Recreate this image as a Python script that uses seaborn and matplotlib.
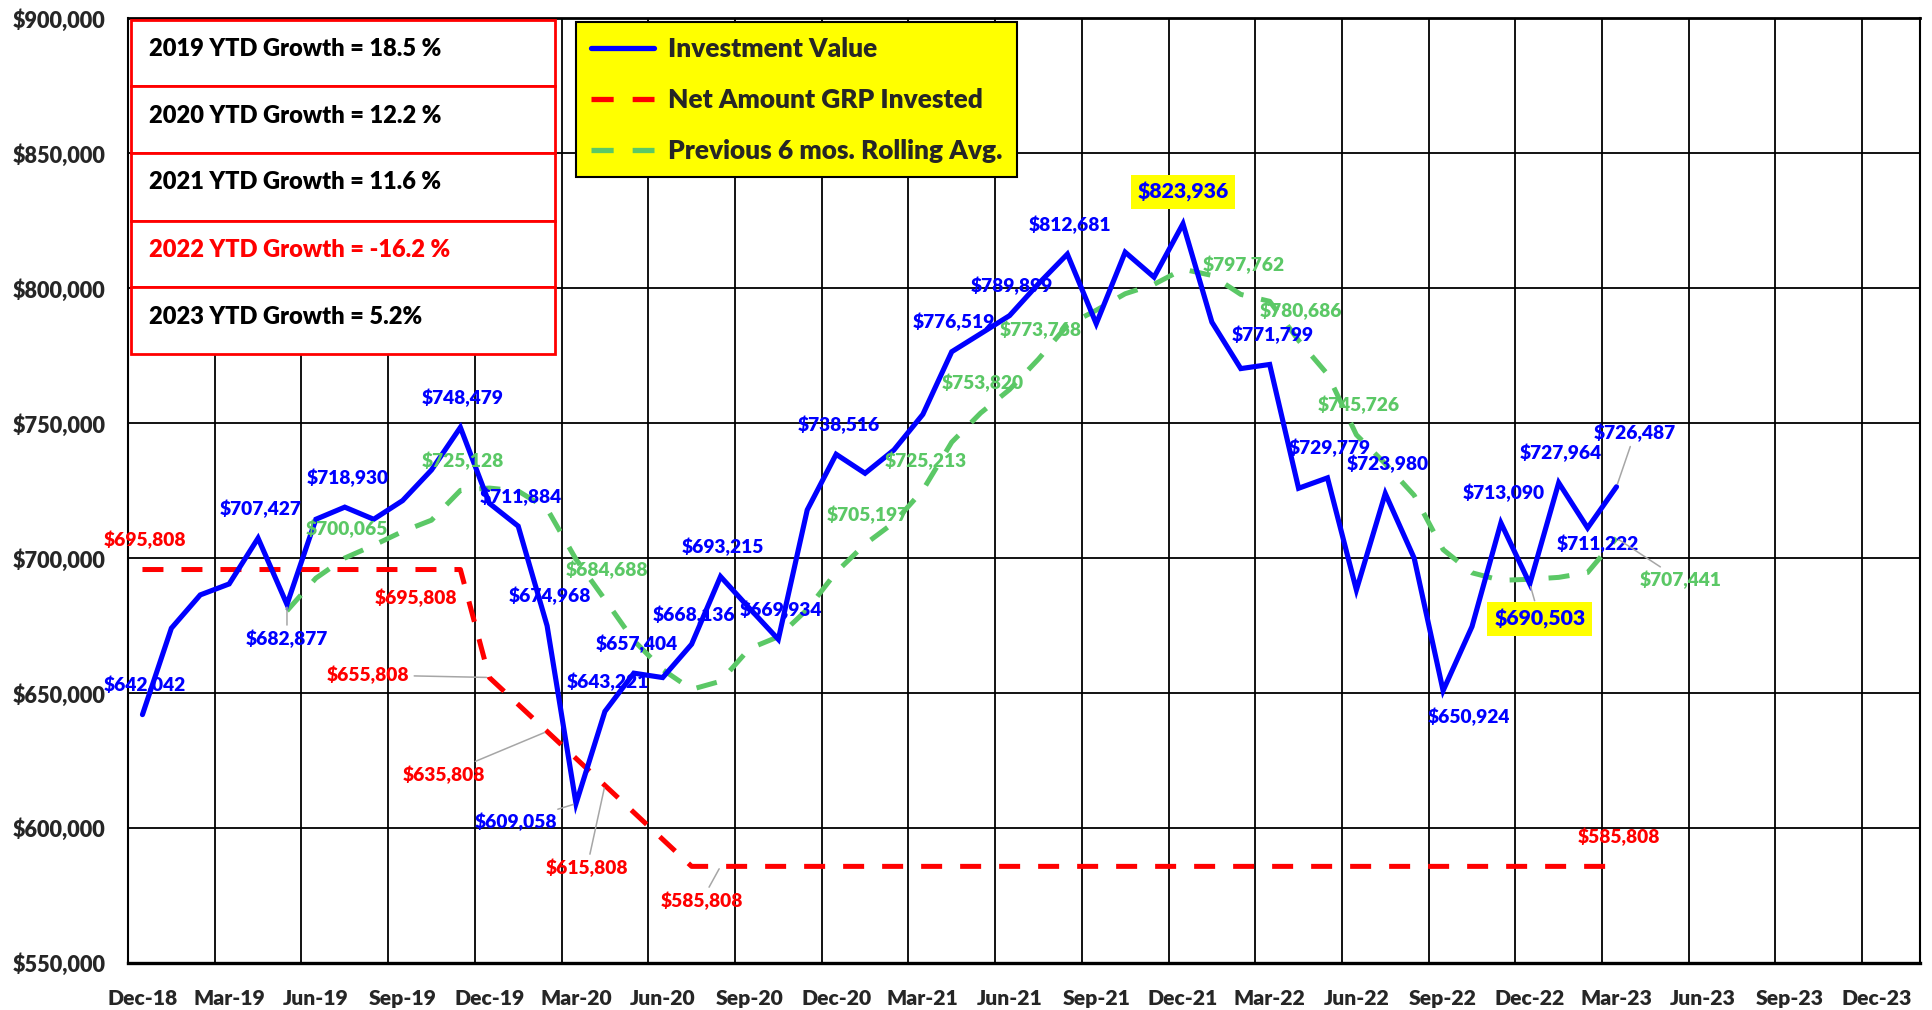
import numpy as np
import pandas as pd
import matplotlib
matplotlib.use('Agg')
import matplotlib.pyplot as plt
import seaborn as sns
from matplotlib.patches import Rectangle
from matplotlib.lines import Line2D
from matplotlib.ticker import FuncFormatter, FixedLocator

# ---- data ----
tick_labels = ['Dec-18', 'Mar-19', 'Jun-19', 'Sep-19', 'Dec-19', 'Mar-20', 'Jun-20',
               'Sep-20', 'Dec-20', 'Mar-21', 'Jun-21', 'Sep-21', 'Dec-21', 'Mar-22',
               'Jun-22', 'Sep-22', 'Dec-22', 'Mar-23', 'Jun-23', 'Sep-23', 'Dec-23']

# monthly, Dec-18 .. Mar-23
investment_value = [642042, 674050, 686400, 690470, 707427, 682877, 714430, 718930,
                    714430, 721350, 732700, 748479, 720360, 711884, 674968, 609058,
                    643221, 657404, 655770, 668136, 693215, 681460, 669934, 717890,
                    738516, 731475, 740120, 753300, 776519, 783200, 789899, 801700,
                    812681, 786900, 813400, 804150, 823936, 787500, 770270, 771799,
                    725920, 729779, 688250, 723980, 700000, 650924, 674665, 713090,
                    690503, 727964, 711222, 726487]

net_invested = [695808, 695808, 695808, 695808, 695808, 695808, 695808, 695808,
                695808, 695808, 695808, 695808, 655808, 645808, 635808, 625808,
                615808, 605808, 595808, 585808, 585808, 585808, 585808, 585808,
                585808, 585808, 585808, 585808, 585808, 585808, 585808, 585808,
                585808, 585808, 585808, 585808, 585808, 585808, 585808, 585808,
                585808, 585808, 585808, 585808, 585808, 585808, 585808, 585808,
                585808, 585808, 585808, 585808]

# starts May-19
rolling_avg = [680500, 692600, 700065, 704800, 709900, 714100, 725128, 726000,
               724900, 718300, 699600, 684688, 669500, 658700, 651400, 654400,
               666500, 670900, 681000, 694800, 705197, 713200, 725213, 743000,
               753820, 762500, 773768, 786300, 791900, 798000, 801500, 807100,
               804800, 797762, 795200, 780686, 768200, 745726, 735000, 723300,
               703200, 694600, 691800, 692200, 692900, 694700, 707441]
rolling_start = 5

ytd_labels = ['2019 YTD Growth = 18.5 %', '2020 YTD Growth = 12.2 %',
              '2021 YTD Growth = 11.6 %', '2022 YTD Growth = -16.2 %',
              '2023 YTD Growth = 5.2%']

series_names = ['Investment Value', 'Net Amount GRP Invested',
                'Previous 6 mos. Rolling Avg.']

# ---- styling ----
W, H = 1933, 1010
BLUE, RED, GREEN, GREY = '#0000FF', '#FF0000', '#5BC866', '#A6A6A6'
FW = 'heavy'

sns.set_style('white')
plt.rcParams['font.family'] = ['Lato', 'DejaVu Sans']
plt.rcParams['font.weight'] = FW

df_inv = pd.DataFrame({'m': np.arange(len(investment_value)), 'v': investment_value})
df_net = pd.DataFrame({'m': np.arange(len(net_invested)), 'v': net_invested})
df_roll = pd.DataFrame({'m': np.arange(len(rolling_avg)) + rolling_start, 'v': rolling_avg})

fig = plt.figure(figsize=(W / 100, H / 100), dpi=100)
ax = fig.add_axes([128 / W, 1 - 963 / H, (1920 - 128) / W, (963 - 18.5) / H])

dash = (0, (4.2, 3.6))
sns.lineplot(data=df_net, x='m', y='v', ax=ax, color=RED, linewidth=3.6,
             linestyle=dash, zorder=3)
sns.lineplot(data=df_roll, x='m', y='v', ax=ax, color=GREEN, linewidth=3.6,
             linestyle=dash, zorder=4)
sns.lineplot(data=df_inv, x='m', y='v', ax=ax, color=BLUE, linewidth=3.7,
             zorder=5, solid_joinstyle='miter')

ax.set_xlim(-0.5, 61.5)
ax.set_ylim(550000, 900000)
ax.set_xlabel('')
ax.set_ylabel('')

ax.xaxis.set_major_locator(FixedLocator(np.arange(0, 61, 3)))
ax.set_xticklabels(tick_labels)
ax.xaxis.set_minor_locator(FixedLocator(np.arange(2.5, 61, 3)))
ax.set_yticks(np.arange(550000, 900001, 50000))
ax.yaxis.set_major_formatter(FuncFormatter(lambda v, p: f'${v:,.0f}'))
ax.tick_params(axis='x', which='both', length=0, pad=19, labelsize=15.2)
ax.tick_params(axis='y', length=0, pad=16, labelsize=15.6)
ax.grid(axis='x', which='minor', color='black', linewidth=1.3)
ax.grid(axis='y', which='major', color='black', linewidth=1.3)
ax.grid(axis='x', which='major', visible=False)
for side, sp in ax.spines.items():
    sp.set_color('black')
    sp.set_linewidth(1.5)
ax.spines['bottom'].set_linewidth(2.4)
ax.spines['top'].set_linewidth(2.0)


def px(dx, dy):
    return dx * 0.72, -dy * 0.72


def put_label(i, v, color, dx=2.5, dy=-29.6, leader=False, highlight=False):
    kw = dict(ha='center', va='center', color=color, fontsize=13.8,
              fontweight=FW, zorder=8, textcoords='offset points')
    if highlight:
        kw['fontsize'] = 15.3
        kw['bbox'] = dict(boxstyle='square,pad=0.32', fc='#FFFF00', ec='none')
    if leader:
        kw['arrowprops'] = dict(arrowstyle='-', color=GREY, lw=1.1,
                                shrinkA=1, shrinkB=2)
    ax.annotate(f'${v:,.0f}', xy=(i, v), xytext=px(dx, dy), **kw)


# investment value labels
for i in [0, 4, 7, 11, 13, 14, 16, 17, 19, 20, 22, 24, 28, 30, 32, 39, 41, 43, 47, 49]:
    put_label(i, investment_value[i], BLUE)
put_label(5, investment_value[5], BLUE, 0, 34.5, leader=True)
put_label(15, investment_value[15], BLUE, -60, 18.5, leader=True)
put_label(45, investment_value[45], BLUE, 26, 26)
put_label(50, investment_value[50], BLUE, 10, 16)
put_label(51, investment_value[51], BLUE, 18.5, -54, leader=True)
put_label(36, investment_value[36], BLUE, 0, -32, highlight=True)
put_label(48, investment_value[48], BLUE, 10, 35, leader=True, highlight=True)

# net invested labels
put_label(0, net_invested[0], RED)
put_label(51, net_invested[51], RED)
put_label(11, net_invested[11], RED, -44.4, 27.9)
put_label(12, net_invested[12], RED, -121, -2.5, leader=True)
put_label(14, net_invested[14], RED, -103, 43, leader=True)
put_label(16, net_invested[16], RED, -18, 82.6, leader=True)
put_label(20, net_invested[20], RED, -19, 34.5, leader=True)

# rolling average labels
for i in [7, 11, 16, 25, 27, 29, 31, 38, 40, 42]:
    put_label(i, rolling_avg[i - rolling_start], GREEN)
put_label(51, rolling_avg[51 - rolling_start], GREEN, 64, 42, leader=True)

# legend
handles = [Line2D([], [], color=BLUE, lw=3.8),
           Line2D([], [], color=RED, lw=3.8, linestyle=dash),
           Line2D([], [], color=GREEN, lw=3.8, linestyle=dash)]
leg = ax.legend(handles, series_names, loc='upper left',
                bbox_to_anchor=(576 / W, 1 - 22 / H), bbox_transform=fig.transFigure,
                borderaxespad=0, fancybox=False, framealpha=1, facecolor='#FFFF00',
                edgecolor='black', handlelength=2.4, handletextpad=0.55,
                labelspacing=1.03, borderpad=0.56,
                prop=dict(family=['Lato', 'DejaVu Sans'], weight=FW, size=18.9))
leg.get_frame().set_linewidth(1.5)
leg.set_zorder(10)

# YTD growth table
row_edges = [19.7, 86.3, 152.9, 220.7, 287.2, 353.8]
for k, txt in enumerate(ytd_labels):
    y0, y1 = row_edges[k], row_edges[k + 1]
    fig.add_artist(Rectangle((131 / W, 1 - y1 / H), (555 - 131) / W, (y1 - y0) / H,
                             transform=fig.transFigure, fc='white', ec=RED,
                             lw=2.0, zorder=10))
    fig.text(149 / W, 1 - (y0 + 29.5) / H, txt, ha='left', va='center',
             fontsize=17, fontweight=FW,
             color=RED if '-' in txt.split('=')[1] else 'black', zorder=11)

fig.savefig('out.png', dpi=100, facecolor='white')
